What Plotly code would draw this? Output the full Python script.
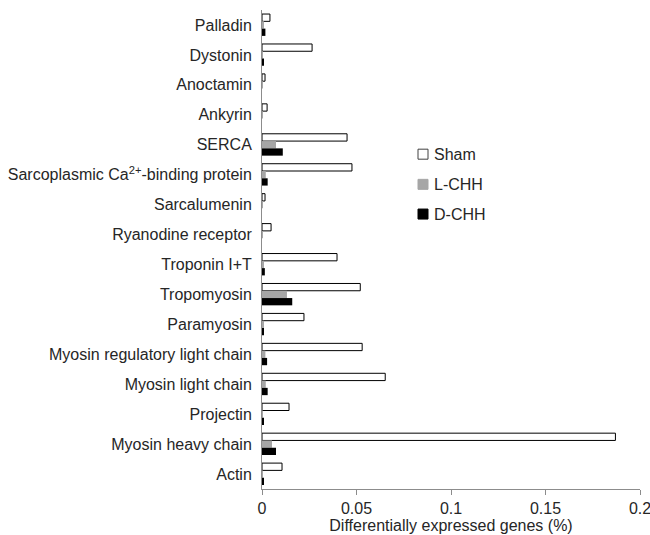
import plotly.graph_objects as go

# Gene categories, listed top to bottom
categories = [
    "Palladin", "Dystonin", "Anoctamin", "Ankyrin", "SERCA",
    "Sarcoplasmic Ca<sup>2+</sup>-binding protein", "Sarcalumenin",
    "Ryanodine receptor", "Troponin I+T", "Tropomyosin", "Paramyosin",
    "Myosin regulatory light chain", "Myosin light chain", "Projectin",
    "Myosin heavy chain", "Actin",
]

# Differentially expressed genes (%) per group
sham = [0.0042, 0.0265, 0.0016, 0.0027, 0.0450, 0.0476, 0.0016, 0.0048,
        0.0397, 0.0520, 0.0222, 0.0530, 0.0652, 0.0143, 0.1870, 0.0106]
l_chh = [0.0010, 0.0005, 0.0005, 0.0005, 0.0074, 0.0020, 0.0005, 0.0005,
         0.0010, 0.0132, 0.0008, 0.0018, 0.0020, 0.0005, 0.0053, 0.0005]
d_chh = [0.0018, 0.0010, 0.0000, 0.0000, 0.0110, 0.0030, 0.0000, 0.0000,
         0.0015, 0.0160, 0.0010, 0.0027, 0.0030, 0.0010, 0.0074, 0.0008]

series_names = ["Sham", "L-CHH", "D-CHH"]
series_fill = ["white", "#a6a6a6", "black"]
series_edge = ["black", "#a6a6a6", "black"]

x_ticks = [0, 0.05, 0.1, 0.15, 0.2]
x_tick_text = ["0", "0.05", "0.1", "0.15", "0.2"]

FONT = "Liberation Sans, Arial, sans-serif"
TEXT = "#262626"
AXIS = "#8c8c8c"

fig = go.Figure()
for name, values, fill, edge in zip(series_names, [sham, l_chh, d_chh],
                                    series_fill, series_edge):
    fig.add_trace(go.Bar(
        y=categories, x=values, name=name, orientation="h",
        marker=dict(color=fill,
                    line=dict(color=edge, width=1 if name == "Sham" else 0)),
        showlegend=False,
    ))

# Key: small squares with labels, stacked inside the plot area
key_x = 0.4127
key_text_x = 0.4497
key_y = [0.699, 0.636, 0.574]
for name, fill, ky in zip(series_names, series_fill, key_y):
    fig.add_shape(
        type="rect", xref="paper", yref="paper",
        xsizemode="pixel", ysizemode="pixel",
        xanchor=key_x, yanchor=ky,
        x0=0, x1=10, y0=-5, y1=5,
        fillcolor=fill, line=dict(color="#404040" if name == "Sham" else fill,
                                  width=1),
    )
    fig.add_annotation(
        x=key_text_x, y=ky, xref="paper", yref="paper",
        xanchor="left", yanchor="middle", showarrow=False,
        text=name, font=dict(size=16, color=TEXT),
    )

fig.update_layout(
    width=650, height=535,
    margin=dict(l=262, r=10, t=10, b=46, autoexpand=False),
    paper_bgcolor="white", plot_bgcolor="white",
    barmode="group", bargap=0.27, bargroupgap=0,
    font=dict(family=FONT, size=16, color=TEXT),
    showlegend=False,
    xaxis=dict(
        range=[0, 0.2], tickvals=x_ticks, ticktext=x_tick_text,
        showgrid=False, zeroline=False, automargin=False,
        showline=True, linecolor=AXIS, linewidth=1,
        ticks="outside", ticklen=5, tickcolor=AXIS,
        tickfont=dict(size=16), ticklabeloverflow="allow",
        title=dict(text="Differentially expressed genes (%)", standoff=2,
                   font=dict(size=16)),
    ),
    yaxis=dict(
        autorange="reversed", showgrid=False, zeroline=False,
        automargin=False,
        showline=True, linecolor=AXIS, linewidth=1,
        ticks="", ticklabelstandoff=6, tickfont=dict(size=16),
    ),
)

fig.write_html("out.html")
